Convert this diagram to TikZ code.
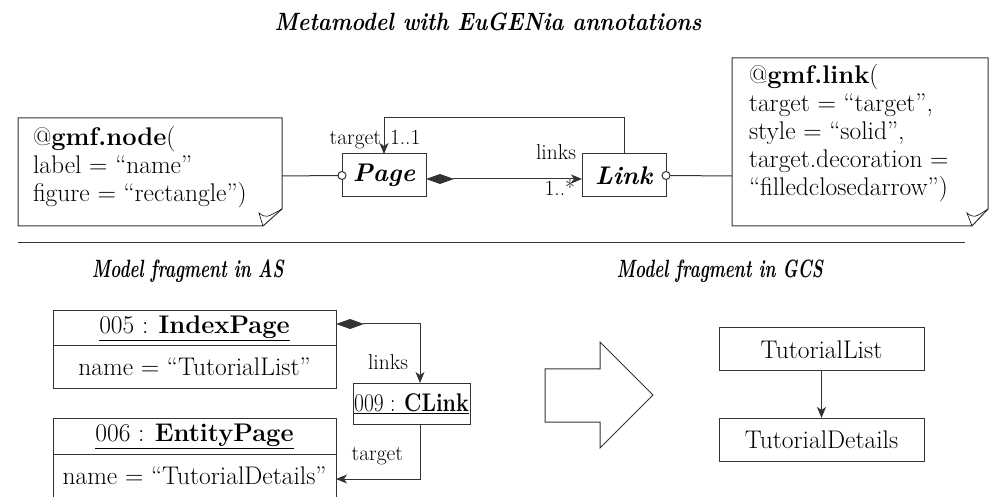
\documentclass[tikz,border=0pt]{standalone}
\usepackage{graphicx}
\usetikzlibrary{arrows.meta,calc}
\begin{document}
\begin{tikzpicture}[x=1pt,y=-1pt,
  every node/.style={inner sep=0pt, outer sep=0pt},
  ln/.style={line width=1pt, draw=black!80},
  big/.style={font=\fontsize{25.5}{28}\selectfont},
  sml/.style={font=\fontsize{21.5}{24}\selectfont},
  head/.style={font=\fontsize{25}{28}\selectfont\bfseries\itshape},
  cls/.style={ln, draw, minimum height=43, minimum width=84, big},
  box/.style={ln, draw, big},
  arr/.style={-{Stealth[length=11pt,width=9pt,inset=3pt]}},
  dia/.style={{Diamond[length=28pt,width=10pt]}-{Stealth[length=11pt,width=9pt,inset=3pt]}}
]
\useasboundingbox (0,0) rectangle (989,497);

% title
\node[head] (title) at (488,22) {\scalebox{0.87}[1]{Metamodel with EuGENia annotations}};

% left note
\draw[ln] (18,118) -- (282,118) -- (282,209) -- (263,226) -- (18,226) -- cycle;
\draw[line width=0.6pt] (263,226) -- (259,213) .. controls (266,218) .. (282,209);
\coordinate (noteL) at (282,176);
\node[big, anchor=north west, align=left] (noteLtxt) at (33,126)
  {@\textbf{gmf.node}(\\label = ``name''\\figure = ``rectangle'')};

% right note
\draw[ln] (732,58) -- (988,58) -- (988,209) -- (972,226) -- (732,226) -- cycle;
\draw[line width=0.6pt] (972,226) -- (967,213) .. controls (974,218) .. (988,209);
\coordinate (noteR) at (732,176);
\node[big, anchor=north west, align=left] (noteRtxt) at (749,64)
  {@\textbf{gmf.link}(\\target = ``target'',\\style = ``solid'',\\target.decoration =\\``filledclosedarrow'')};

% classes
\node[cls] (page) at (384,175.5) {\textbf{\textit{Page}}};
\node[cls] (link) at (624,175.5) {\textbf{\textit{Link}}};
\node[ln, draw, fill=white, circle, minimum size=8] (pc) at (page.west) {};
\node[ln, draw, fill=white, circle, minimum size=8] (lc) at (link.east) {};
\draw[ln] (noteL) -- (pc.west);
\draw[ln] (lc.east) -- (noteR);
\draw[ln, dia] ([yshift=-3.5]page.east) -- ([yshift=-3.5]link.west);
\draw[ln, arr] (link.north) -- ++(0,-36) -| (page.north);
\node[sml, anchor=base east] (lt) at (381,145) {target};
\node[sml, anchor=base west] (l11) at (390,145) {1..1};
\node[sml, anchor=base east] (llinks) at (576,160) {links};
\node[sml, anchor=base east] (lmult) at (575,196) {1..*};

% separator
\coordinate (s1) at (18,243);
\coordinate (s2) at (965,243);
\draw[ln] (s1) -- (s2);

% headings
\node[head] (h1) at (188,271) {\scalebox{0.68}[1]{Model fragment in AS}};
\node[head] (h2) at (720,271) {\scalebox{0.68}[1]{Model fragment in GCS}};

% AS objects
\node[box, minimum width=283, minimum height=35] (ip) at (194.5,328.5) {\underline{005 : \textbf{IndexPage}}};
\node[box, minimum width=283, minimum height=42, anchor=north] (ipb) at (ip.south) {name = ``TutorialList''};
\node[box, minimum width=283, minimum height=36] (ep) at (194.5,436) {\underline{006 : \textbf{EntityPage}}};
\node[box, minimum width=283, minimum height=43, anchor=north] (epb) at (ep.south) {name = ``TutorialDetails''};
\node[box, minimum width=117, minimum height=41] (cl) at (411.5,403.5) {\scalebox{0.84}[1]{\underline{009 : \textbf{CLink}}}};
\coordinate (cx) at (420,0);
\draw[ln, dia] ([yshift=4.5]ip.east) -| (cl.north -| cx);
\draw[ln, arr] (cl.south -| cx) |- ([yshift=-3.5]epb.east);
\node[sml, anchor=base east] (al) at (408,370) {links};
\node[sml, anchor=base east] (at) at (403,460) {target};

% big arrow
\draw[ln] (545,369) -- (600,369) -- (600,342) -- (653,395) -- (600,448) -- (600,422) -- (545,422) -- cycle;

% GCS
\node[box, minimum width=205, minimum height=43] (tl) at (821.5,349.5) {TutorialList};
\node[box, minimum width=205, minimum height=43] (td) at (821.5,439.5) {TutorialDetails};
\draw[ln, arr] (tl.south) -- (td.north);
\end{tikzpicture}
\end{document}
